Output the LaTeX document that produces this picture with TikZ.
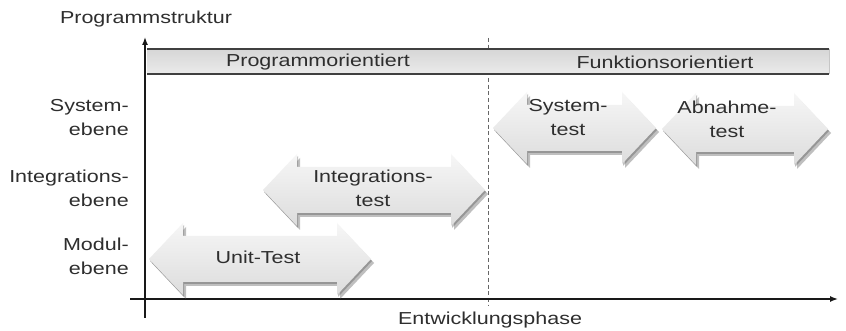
\documentclass[tikz,border=0pt]{standalone}
\usepackage{fontspec}
\setmainfont{Liberation Sans}[FakeStretch=1.24]
\usetikzlibrary{arrows.meta}
\definecolor{txt}{gray}{0.18}
\newcommand\dblarrpath[3]{(#1,#3) -- ({#1+34},{#3-36}) -- ({#1+34},{#3-23}) -- ({#2-34},{#3-23}) -- ({#2-34},{#3-36}) -- (#2,#3) -- ({#2-34},{#3+36}) -- ({#2-34},{#3+23}) -- ({#1+34},{#3+23}) -- ({#1+34},{#3+36}) -- cycle}
\newcommand\dblarr[3]{%
  \fill[black!55, opacity=0.45, shift={(3,4)}] \dblarrpath{#1}{#2}{#3};
  \fill[black!70, opacity=0.35, shift={(1,2)}] \dblarrpath{#1}{#2}{#3};
  \shade[top color=gray!7, bottom color=gray!27] \dblarrpath{#1}{#2}{#3};
}
\begin{document}
\begin{tikzpicture}[x=0.75pt,y=-0.75pt,
  font=\fontsize{13pt}{18pt}\selectfont,
  lbl/.style={text=txt, inner sep=0pt, align=center},
  rlbl/.style={text=txt, inner sep=0pt, align=right, anchor=east},
  axis/.style={line width=1.1pt, black!90, -{Latex[length=6pt,width=4.5pt]}}]
\useasboundingbox (0,0) rectangle (846,331);
\fill[white] (0,0) rectangle (846,331);

% dashed separator
\coordinate (dtop) at (488,38);
\coordinate (dbot) at (488,306);
\draw[black!60, line width=0.7pt, dash pattern=on 3pt off 2pt] (dtop) -- (dbot);

% band
\shade[top color=gray!32, bottom color=gray!16] (147,49) rectangle (829,74);
\draw[gray!45, line width=0.5pt] (829,49) -- (829,74);
\draw[black!75, line width=1.3pt] (147,49) -- (829,49);
\draw[black!75, line width=1.3pt] (147,74) -- (829,74);
\node[lbl] (po) at (318,62) {Programmorientiert};
\node[lbl] (fo) at (665,62) {Funktionsorientiert};

% axes
\coordinate (ybot) at (145,318);
\coordinate (ytop) at (145,37);
\coordinate (xleft) at (130,299);
\coordinate (xright) at (838,299);
\draw[axis] (ybot) -- (ytop);
\draw[axis] (xleft) -- (xright);
\node[lbl] (ylab) at (146,19) {Programmstruktur};
\node[lbl] (xlab) at (490,320) {Entwicklungsphase};

% level labels
\node[rlbl] (sys) at (129,118) {System-\\ebene};
\node[rlbl] (int) at (129,188) {Integrations-\\ebene};
\node[rlbl] (mod) at (129,256) {Modul-\\ebene};

% block arrows
\dblarr{149}{371}{259}
\dblarr{263}{485}{190}
\dblarr{493}{656}{128}
\dblarr{662}{828}{129}
\node[lbl] (unit) at (258,257) {Unit-Test};
\node[lbl] (integ) at (373,188) {Integrations-\\test};
\node[lbl] (syst) at (568,118) {System-\\test};
\node[lbl] (abn) at (727,119) {Abnahme-\\test};
\end{tikzpicture}
\end{document}
